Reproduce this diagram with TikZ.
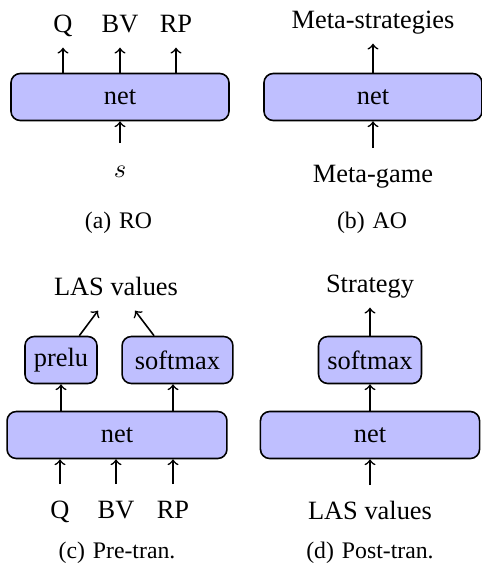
\documentclass[tikz,border=0pt]{standalone}
\usepackage{fontspec}
\setmainfont{Liberation Serif}
\begin{document}
\begin{tikzpicture}[x=0.3788pt, y=-0.3788pt, >=to, semithick,
                    block/.style={draw, rounded corners=3.5pt, fill=blue!25, minimum height=17.8pt, inner sep=0pt},
                    lbl/.style={anchor=base, text height=2ex, text depth=.5ex},
                    subcap/.style={anchor=base, font=\small}]
\useasboundingbox (0,0) rectangle (482,570);

\node[block, minimum width=82.6pt] (neta) at (120,97) {net};
\node[lbl] (qa) at (63,32) {Q};
\node[lbl] (bva) at (120,32) {BV};
\node[lbl] (rpa) at (176,32) {RP};
\node[lbl] (sa) at (120,177) {$s$};
\node[subcap] (capa) at (118.5,228) {(a)\hspace{3pt}RO};
\draw[->] (qa |- neta.north) -- (qa);
\draw[->] (bva |- neta.north) -- (bva);
\draw[->] (rpa |- neta.north) -- (rpa);
\draw[->] (sa) -- (neta);

\node[block, minimum width=82.6pt] (netb) at (373,97) {net};
\node[lbl] (metas) at (373,28) {Meta-strategies};
\node[lbl] (metag) at (373,182) {Meta-game};
\node[subcap] (capb) at (372,228) {(b)\hspace{3pt}AO};
\draw[->] (netb) -- (metas);
\draw[->] (metag) -- (netb);

\node[block, minimum width=83.3pt] (netc) at (117,435) {net};
\node[block, minimum width=27.3pt] (prelu) at (61,360) {prelu};
\node[block, minimum width=42pt] (smc) at (177.5,360) {softmax};
\node[lbl] (lasc) at (116,295) {LAS values};
\node[lbl] (qc) at (60,518) {Q};
\node[lbl] (bvc) at (116,518) {BV};
\node[lbl] (rpc) at (173,518) {RP};
\node[subcap] (capc) at (117,558) {(c)\hspace{3pt}Pre-tran.};
\draw[->] (qc) -- (qc |- netc.south);
\draw[->] (bvc) -- (bvc |- netc.south);
\draw[->] (rpc) -- (rpc |- netc.south);
\draw[->] (prelu |- netc.north) -- (prelu);
\draw[->] (rpc |- netc.north) -- (rpc |- smc.south);
\draw[->] (prelu.53) -- ([xshift=-6.8pt]lasc.south);
\draw[->] (smc.134) -- ([xshift=7.2pt]lasc.south);

\node[block, minimum width=83pt] (netd) at (370,435) {net};
\node[block, minimum width=39pt] (smd) at (370,360) {softmax};
\node[lbl] (strat) at (370,292) {Strategy};
\node[lbl] (lasd) at (370,519) {LAS values};
\node[subcap] (capd) at (370,558) {(d)\hspace{3pt}Post-tran.};
\draw[->] (lasd) -- (netd);
\draw[->] (netd) -- (smd);
\draw[->] (smd) -- (strat);
\end{tikzpicture}
\end{document}
